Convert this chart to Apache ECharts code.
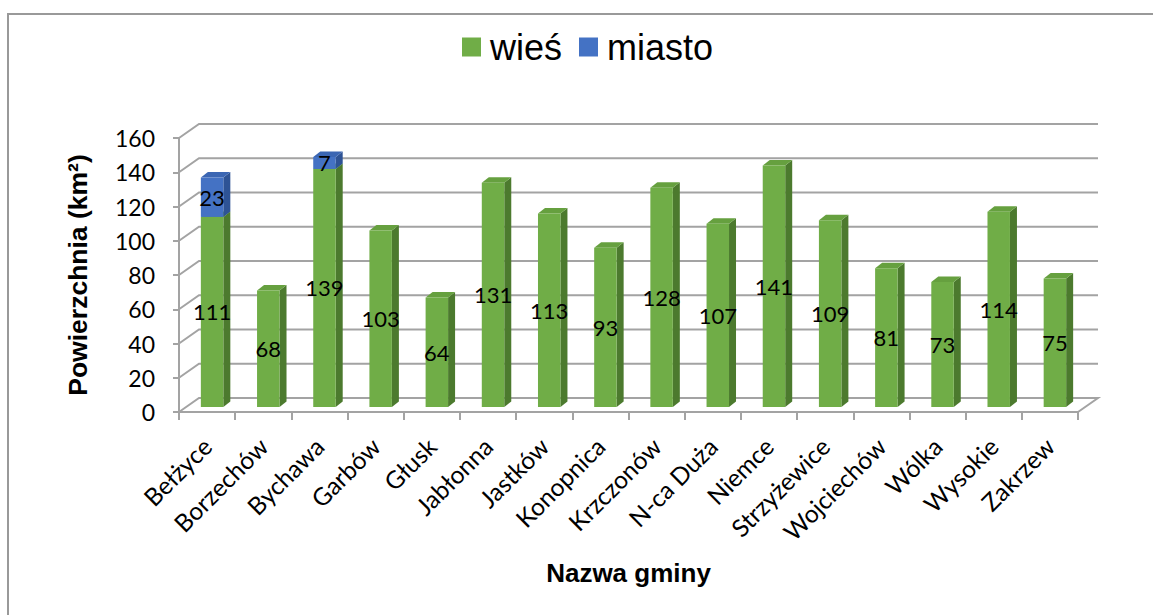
<!DOCTYPE html>
<html><head><meta charset="utf-8">
<script src="https://cdn.jsdelivr.net/npm/echarts@6/dist/echarts.min.js"></script>
<style>html,body{margin:0;padding:0;background:#fff}#c{width:1153px;height:615px}</style>
</head><body><div id="c"></div>
<script>
const categories = ['Bełżyce','Borzechów','Bychawa','Garbów','Głusk','Jabłonna','Jastków','Konopnica','Krzczonów','N-ca Duża','Niemce','Strzyżewice','Wojciechów','Wólka','Wysokie','Zakrzew'];
const wies = [111,68,139,103,64,131,113,93,128,107,141,109,81,73,114,75];
const miasto = [23,0,7,0,0,0,0,0,0,0,0,0,0,0,0,0];
const yTicks = [0,20,40,60,80,100,120,140,160];

const DX = 20, DY = -14;     // back wall depth
const BDX = 5, BDY = -5;     // bar front-face offset from the front plane
const SDX = 7, SDY = -5.5;   // bar depth
const FACE = 0.4;            // bar width as share of band
const GRID = '#a3a3a3';

function barRenderer(front, side, top){
  return function(params, api){
    const i = api.value(0), lo = api.value(1), hi = api.value(2), val = api.value(3);
    if (!(hi > lo)) return;
    const p0 = api.coord([i, lo]), p1 = api.coord([i, hi]);
    const bw = api.size([1, 0])[0] * FACE;
    const xl = p0[0] - bw / 2 + BDX, xr = xl + bw;
    const yb = p0[1] + BDY, yt = p1[1] + BDY;
    return {
      type: 'group',
      children: [
        {type:'polygon', shape:{points:[[xr,yb],[xr+SDX,yb+SDY],[xr+SDX,yt+SDY],[xr,yt]]}, style:{fill:side}},
        {type:'polygon', shape:{points:[[xl,yt],[xr,yt],[xr+SDX,yt+SDY],[xl+SDX,yt+SDY]]}, style:{fill:top}},
        {type:'rect', shape:{x:xl, y:yt, width:bw, height:yb-yt}, style:{fill:front}},
        {type:'text', style:{text:String(val), x:xl+bw/2, y:(yb+yt)/2, fill:'#000', font:'22px Lato', align:'center', verticalAlign:'middle'}}
      ]
    };
  };
}

function wallRenderer(params, api){
  const v = api.value(1);
  const cs = params.coordSys;
  const y = api.coord([0, v])[1];
  const x0 = cs.x, x1 = cs.x + cs.width;
  const pts = [[x0, y], [x0 + DX, y + DY], [x1 + DX, y + DY]];
  if (v === 0) pts.push([x1, y]);
  return {type:'polyline', shape:{points:pts}, style:{stroke:GRID, lineWidth:2, fill:null}};
}

const wiesData = wies.map((v, i) => [i, 0, v, v]);
const miastoData = miasto.map((v, i) => [i, wies[i], wies[i] + v, v]).filter(d => d[3] > 0);

const chart = echarts.init(document.getElementById('c'), null, {renderer:'svg'});
chart.setOption({
  animation: false,
  backgroundColor: '#fff',
  graphic: [{type:'rect', shape:{x:8, y:14, width:1200, height:700}, style:{fill:null, stroke:'#999', lineWidth:2}, silent:true, z:-10}],
  legend: {
    data: ['wieś', 'miasto'], left: 457, top: 24, icon: 'rect', itemWidth: 19, itemHeight: 19, itemGap: 17,
    textStyle: {fontFamily:'Liberation Sans', fontSize: 36, color: '#000', padding:[0,0,0,4]}
  },
  grid: {left: 179, top: 138, width: 899, height: 274},
  xAxis: {
    type: 'category', data: categories,
    axisLine: {lineStyle:{color:GRID, width:2}},
    axisTick: {show:true, length:8, lineStyle:{color:GRID, width:2}},
    axisLabel: {rotate: 45, margin: 30, fontFamily:'Lato', fontSize: 24.5, color:'#000', interval:0},
    name: 'Nazwa gminy', nameLocation: 'middle', nameGap: 148,
    nameTextStyle: {fontFamily:'Liberation Sans', fontWeight:'bold', fontSize: 26, color:'#000'}
  },
  yAxis: {
    type: 'value', min: 0, max: 160, interval: 20,
    axisLine: {show:true, lineStyle:{color:GRID, width:2}},
    axisTick: {show:true, length:6, lineStyle:{color:GRID, width:2}},
    splitLine: {show:false},
    axisLabel: {margin: 24, fontFamily:'Lato', fontSize: 23, color:'#000'},
    name: 'Powierzchnia (km²)', nameLocation: 'middle', nameGap: 88,
    nameTextStyle: {fontFamily:'Liberation Sans', fontWeight:'bold', fontSize: 26.5, color:'#000'}
  },
  series: [
    {type:'custom', name:'walls', data: yTicks.map(v => [0, v]), renderItem: wallRenderer, encode:{x:0, y:1}, silent:true, z:1},
    {type:'custom', name:'wieś', data: wiesData, renderItem: barRenderer('#70AD47', '#4C7A2E', '#66A03F'), encode:{x:0, y:[1,2]}, itemStyle:{color:'#70AD47'}, z:2},
    {type:'custom', name:'miasto', data: miastoData, renderItem: barRenderer('#4472C4', '#2E5395', '#3B66B3'), encode:{x:0, y:[1,2]}, itemStyle:{color:'#4472C4'}, z:3}
  ]
});
</script></body></html>
